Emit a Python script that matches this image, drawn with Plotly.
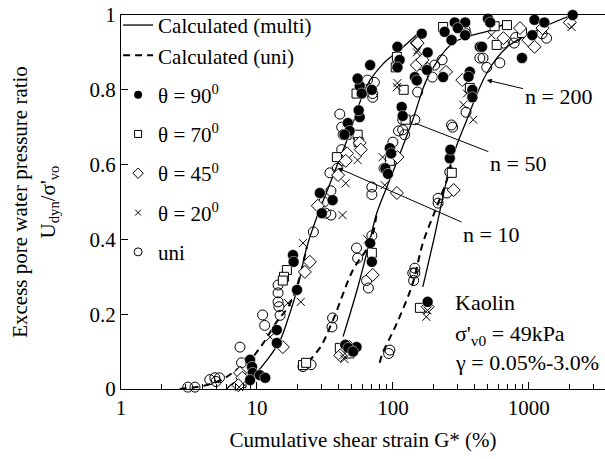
import plotly.graph_objects as go
import numpy as np

FONT = "Liberation Serif"

# ---------------- calculated curves (G*, U) ----------------
multi10_G = [6.0, 6.7, 9.3, 12.0, 14.8, 17.0, 19.7, 23.3, 27.6, 36, 48, 64, 85, 112, 158]
multi10_U = [0.0, 0.016, 0.035, 0.08, 0.13, 0.19, 0.265, 0.38, 0.46, 0.567, 0.684, 0.81, 0.87, 0.906, 0.955]
uni10_G = [2.7, 4.0, 5.5, 7.0, 9.0, 11.0, 14.0, 17.0, 19.7, 23.3]
uni10_U = [0.0, 0.008, 0.025, 0.05, 0.08, 0.12, 0.18, 0.22, 0.275, 0.38]

multi50_G = [43, 55, 68, 76, 100, 140, 181, 277, 534, 650]
multi50_U = [0.14, 0.27, 0.40, 0.47, 0.58, 0.72, 0.834, 0.925, 0.96, 0.975]
uni50_G = [20.7, 29, 36.3, 50.8, 67.8, 76]
uni50_U = [0.05, 0.11, 0.185, 0.318, 0.39, 0.47]

multi200_G = [166, 200, 271, 350, 491, 690, 1150, 2080]
multi200_U = [0.273, 0.40, 0.612, 0.72, 0.845, 0.914, 0.96, 1.0]
uni200_G = [80, 84, 107, 140, 166, 210, 250, 271]
uni200_U = [0.07, 0.096, 0.176, 0.283, 0.39, 0.487, 0.56, 0.612]

# ---------------- measured data ----------------
theta90_G = [8.9, 9.2, 9.3, 8.9, 10.5, 11.5, 14.0, 14.0, 19.7, 18.4, 18.6, 29, 30, 36, 46.6, 48, 44,
             57, 56, 57, 59, 55, 68, 70, 108, 112, 108, 163,
             44.6, 54, 47, 51, 68, 70, 88, 92, 95, 97, 116, 118, 145, 150, 178, 234, 180, 240, 270,
             285, 340, 300, 340, 500, 520,
             180, 262, 265, 368, 360, 384, 384, 436, 452, 890, 1060, 1100, 1300, 2100]
theta90_U = [0.078, 0.059, 0.043, 0.024, 0.037, 0.03, 0.158, 0.123, 0.265, 0.358, 0.34, 0.524, 0.47, 0.505, 0.711, 0.69, 0.68,
             0.727, 0.745, 0.81, 0.79, 0.83, 0.866, 0.80, 0.915, 0.88, 0.86, 0.95,
             0.118, 0.112, 0.11, 0.10, 0.39, 0.34, 0.59, 0.575, 0.644, 0.63, 0.754, 0.73, 0.834, 0.825, 0.853, 0.834, 0.90, 0.955, 0.933,
             0.98, 0.98, 0.965, 0.946, 0.99, 0.98,
             0.233, 0.617, 0.64, 0.848, 0.835, 0.80, 0.78, 0.915, 0.915, 0.885, 0.946, 0.987, 0.98, 1.0]

theta70_G = [7.7, 16.6, 15.8, 15.5, 45.6, 55, 56, 38.7, 54, 107, 105,
             40.7, 48, 21.8, 23, 70, 163, 124, 95, 234, 120,
             158, 271, 368, 580, 690, 890, 560]
theta70_U = [0.016, 0.318, 0.30, 0.29, 0.68, 0.68, 0.66, 0.62, 0.79, 0.888, 0.86,
             0.11, 0.095, 0.064, 0.07, 0.364, 0.866, 0.72, 0.61, 0.968, 0.80,
             0.217, 0.578, 0.805, 0.92, 0.973, 0.952, 0.97]

theta45_G = [7.5, 7.8, 7.3, 15.5, 22.5, 24.5, 57, 58, 46, 45, 39.5, 150, 28,
             71, 48, 41, 108, 107, 150, 165, 152, 246,
             180, 280, 324, 650, 1100, 990, 1260, 2000, 860]
theta45_U = [0.043, 0.03, 0.01, 0.112, 0.313, 0.34, 0.658, 0.64, 0.63, 0.61, 0.572, 0.925, 0.49,
             0.305, 0.112, 0.09, 0.62, 0.524, 0.866, 0.88, 0.925, 0.848,
             0.22, 0.532, 0.826, 0.938, 0.915, 0.933, 0.965, 0.98, 0.965]

theta20_G = [7.4, 12.5, 16.9, 21.8, 42.6, 45, 55, 108, 150, 21,
             43, 44, 84, 87, 107, 152, 65,
             176, 180, 350, 390, 530, 2060, 330]
theta20_U = [0.005, 0.139, 0.23, 0.39, 0.465, 0.55, 0.612, 0.818, 0.90, 0.233,
             0.09, 0.08, 0.62, 0.545, 0.807, 0.906, 0.40,
             0.193, 0.21, 0.79, 0.72, 0.946, 0.968, 0.76]

uni_G = [3.1, 3.5, 4.5, 4.9, 5.3, 5.0, 7.5, 7.7, 11, 11.4, 14.3, 14.3, 14.3, 14.5, 14.8,
         40.7, 42, 43, 42, 43, 39, 34.4, 35, 31, 35, 32, 73, 71, 71, 65, 26,
         21.8, 25, 35.6, 36, 54, 55, 64, 66, 70, 145, 118, 122, 110, 152, 118, 70, 70, 86,
         230, 203, 175, 270, 340, 345, 195, 100,
         95, 93, 140, 142, 215, 215, 250, 262, 145, 145, 270, 275, 345, 436, 460, 490,
         612, 650, 780, 800, 1350, 1250]
uni_U = [0.005, 0.005, 0.025, 0.03, 0.03, 0.02, 0.112, 0.07, 0.198, 0.17, 0.278, 0.257, 0.233, 0.22, 0.197,
         0.735, 0.70, 0.68, 0.64, 0.61, 0.59, 0.578, 0.53, 0.50, 0.465, 0.47, 0.82, 0.79, 0.78, 0.826, 0.42,
         0.06, 0.065, 0.166, 0.19, 0.377, 0.35, 0.29, 0.27, 0.41, 0.72, 0.693, 0.68, 0.69, 0.794, 0.72, 0.54, 0.52, 0.59,
         0.88, 0.866, 0.86, 0.933, 0.96, 0.95, 0.834, 0.66,
         0.104, 0.095, 0.31, 0.29, 0.497, 0.51, 0.524, 0.58, 0.323, 0.31, 0.706, 0.70, 0.74, 0.885, 0.885, 0.86,
         0.872, 0.925, 0.925, 0.94, 0.938, 0.95]

x_tickvals = [1, 10, 100, 1000]
x_ticktext = ["1", "10", "100", "1000"]
y_tickvals = [0, 0.2, 0.4, 0.6, 0.8, 1.0]
y_ticktext = ["0", "0.2", "0.4", "0.6", "0.8", "1"]

fig = go.Figure()

# curves
for G, U in [(multi10_G, multi10_U), (multi50_G, multi50_U), (multi200_G, multi200_U)]:
    fig.add_trace(go.Scatter(x=G, y=U, mode="lines", line=dict(color="black", width=1.3, shape="spline"),
                             showlegend=False, hoverinfo="skip"))
for G, U in [(uni10_G, uni10_U), (uni50_G, uni50_U), (uni200_G, uni200_U)]:
    fig.add_trace(go.Scatter(x=G, y=U, mode="lines",
                             line=dict(color="black", width=2, dash="7px,5px", shape="spline"),
                             showlegend=False, hoverinfo="skip"))

# markers
ML = dict(color="black", width=1)
series = [
    (uni_G, uni_U, dict(symbol="circle-open", size=10, color="black", line=dict(width=1))),
    (theta70_G, theta70_U, dict(symbol="square", size=9, color="white", line=ML)),
    (theta45_G, theta45_U, dict(symbol="diamond", size=10, color="white", line=ML)),
    (theta20_G, theta20_U, dict(symbol="x-thin", size=8, color="black", line=dict(color="black", width=1))),
    (theta90_G, theta90_U, dict(symbol="circle", size=11, color="black", line=dict(color="white", width=0.5))),
]
for G, U, mk in series:
    fig.add_trace(go.Scatter(x=G, y=U, mode="markers", marker=mk, showlegend=False,
                             cliponaxis=False))

# legend entries
fig.add_trace(go.Scatter(x=[None], y=[None], mode="lines", name="Calculated (multi)",
                         line=dict(color="black", width=1.3), legendgroup="lines"))
fig.add_trace(go.Scatter(x=[None], y=[None], mode="lines", name="Calculated (uni)",
                         line=dict(color="black", width=2, dash="7px,5px"), legendgroup="lines"))
leg = [
    ("θ = 90<sup>0</sup>", dict(symbol="circle", size=8, color="black")),
    ("θ = 70<sup>0</sup>", dict(symbol="square", size=7, color="white", line=ML)),
    ("θ = 45<sup>0</sup>", dict(symbol="diamond", size=8, color="white", line=ML)),
    ("θ = 20<sup>0</sup>", dict(symbol="x-thin", size=6, color="black", line=dict(color="black", width=1))),
    ("uni", dict(symbol="circle-open", size=8, color="black", line=dict(width=1))),
]
for i, (nm, mk) in enumerate(leg):
    fig.add_trace(go.Scatter(x=[None], y=[None], mode="markers", name=nm, marker=mk,
                             legendgroup="g%d" % i))

# n labels with arrows (data coords, log axis)
def ann(text, gx, u, tx, tu, head):
    fig.add_annotation(x=np.log10(gx), y=u, ax=np.log10(tx), ay=tu, xref="x", yref="y",
                       axref="x", ayref="y", text=text, showarrow=True, arrowhead=head,
                       arrowsize=1, arrowwidth=1, arrowcolor="black",
                       font=dict(family=FONT, size=22, color="black"))

ann("n = 200", 491, 0.826, 1640, 0.781, 2)
ann("n = 50", 145, 0.711, 830, 0.604, 0)
ann("n = 10", 39.4, 0.591, 527, 0.412, 2)

for txt, yp in [("Kaolin", 0.23), ("σ'<sub>v0</sub> = 49kPa", 0.144), ("γ = 0.05%-3.0%", 0.072)]:
    fig.add_annotation(x=0.686, y=yp, xref="paper", yref="paper", xanchor="left", yanchor="middle",
                       text=txt, showarrow=False, font=dict(family=FONT, size=22, color="black"))

fig.update_layout(
    width=605, height=459,
    margin=dict(l=121, r=0, t=15, b=70),
    plot_bgcolor="white", paper_bgcolor="white",
    font=dict(family=FONT, size=21, color="black"),
    showlegend=True,
    legend=dict(x=-0.006, y=1.027, xanchor="left", yanchor="top",
                bgcolor="rgba(0,0,0,0)", maxheight=420,
                font=dict(family=FONT, size=21), tracegroupgap=9, itemwidth=30),
    xaxis=dict(type="log", range=[0, 3.56], showline=True, linecolor="black", linewidth=1.3,
               mirror=True, ticks="inside", ticklen=7, tickcolor="black",
               tickvals=x_tickvals, ticktext=x_ticktext, showgrid=False, zeroline=False,
               minor=dict(ticks="inside", ticklen=5, dtick="D1", tickcolor="black", showgrid=False),
               title=dict(text="Cumulative shear strain G* (%)", font=dict(family=FONT, size=21), standoff=12)),
    yaxis=dict(range=[0, 1], showline=True, linecolor="black", linewidth=1.3,
               ticks="inside", ticklen=7, tickcolor="black", tickvals=y_tickvals, ticktext=y_ticktext,
               showgrid=False, zeroline=False,
               title=dict(text="Excess pore water pressure ratio<br>U<sub>dyn</sub>/σ'<sub>vo</sub>",
                          font=dict(family=FONT, size=21), standoff=28)),
)

fig.write_html("out.html")
